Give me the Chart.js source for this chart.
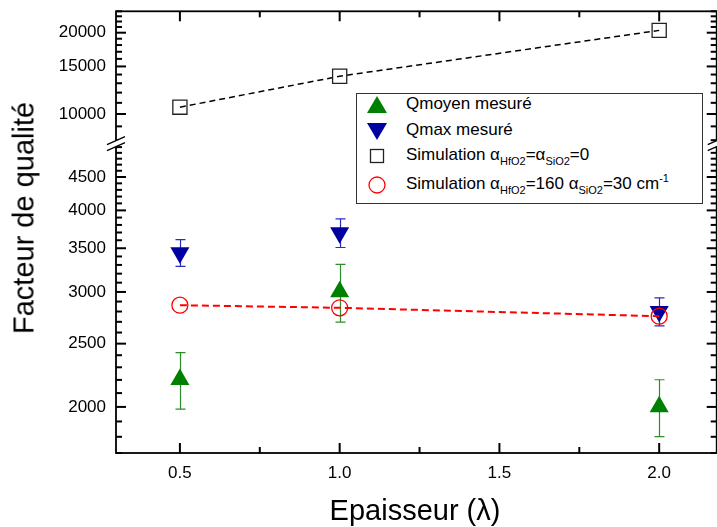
<!DOCTYPE html>
<html>
<head>
<meta charset="utf-8">
<script src="https://cdn.jsdelivr.net/npm/chart.js@4.4.9/dist/chart.umd.min.js"></script>
<style>
  html, body { margin: 0; padding: 0; background: #fff; overflow: hidden; }
  #wrap { position: relative; width: 717px; height: 527px; overflow: hidden; font-family: "Liberation Sans", Arial, sans-serif; color: #000; }
  #c { position: absolute; left: 0; top: 0; }
  .ytitle { position: absolute; left: 24px; top: 218px; transform: translate(-50%, -50%) rotate(-90deg);
            font-size: 29px; line-height: 29px; white-space: nowrap; }
  .xtitle { position: absolute; left: 415px; top: 510px; transform: translate(-50%, -50%);
            font-size: 29px; line-height: 29px; white-space: nowrap; }
  #legend { position: absolute; left: 356px; top: 93px; width: 347px; height: 111px;
            box-sizing: border-box; border: 1px solid #333; background: #fff; }
  .row { position: absolute; left: 49px; height: 20px; line-height: 20px; font-size: 17px; white-space: nowrap; }
  .sym { position: absolute; left: 9px; width: 22px; height: 22px; }
  .row sub { font-size: 11px; vertical-align: -5px; line-height: 0; }
  .row sup { font-size: 11px; vertical-align: 7px; line-height: 0; }
</style>
</head>
<body>
<div id="wrap">
  <canvas id="c" width="728" height="527"></canvas>
  <div class="ytitle">Facteur de qualité</div>
  <div class="xtitle">Epaisseur (λ)</div>
  <div id="legend">
    <svg class="sym" style="top:0px" viewBox="0 0 22 22"><polygon points="11,2 21,19 1,19" fill="#008000"/></svg>
    <div class="row" style="top:0px">Qmoyen mesuré</div>
    <svg class="sym" style="top:26px" viewBox="0 0 22 22"><polygon points="1,3 21,3 11,20" fill="#0000a0"/></svg>
    <div class="row" style="top:26px">Qmax mesuré</div>
    <svg class="sym" style="top:51px" viewBox="0 0 22 22"><rect x="4.5" y="4.5" width="13" height="13" fill="none" stroke="#222" stroke-width="1.3"/></svg>
    <div class="row" style="top:51px">Simulation α<sub>HfO2</sub>=α<sub>SiO2</sub>=0</div>
    <svg class="sym" style="top:80px" viewBox="0 0 22 22"><circle cx="11" cy="11" r="8" fill="none" stroke="#ff0000" stroke-width="1.3"/></svg>
    <div class="row" style="top:80px">Simulation α<sub>HfO2</sub>=160 α<sub>SiO2</sub>=30 cm<sup>-1</sup></div>
  </div>
</div>
<script>
/* data */
const thickness  = [0.5, 1.0, 2.0];
const qMoyen     = [2203, 3002, 2001];
const qMoyenErr  = [219, 305, 200];
const qMax       = [3446, 3696, 2800];
const qMaxErr    = [163, 187, 138];
const simNoLoss  = [10600, 13800, 20400];
const simLoss    = [2863, 2837, 2754];

const xTicks     = [0.5, 1.0, 1.5, 2.0];
const xMinor     = [0.75, 1.25, 1.75];
const yTopTicks  = [10000, 15000, 20000];
const yBotTicks  = [2000, 2500, 3000, 3500, 4000, 4500];

const range = (a, b, s) => { const r = []; for (let v = a; v <= b; v += s) r.push(v); return r; };
const yTopMinor = range(8000, 24000, 1000).filter(v => !yTopTicks.includes(v));
const yBotMinor = range(1700, 5000, 100).filter(v => !yBotTicks.includes(v));

const FONT = '"Liberation Sans", Arial, sans-serif';
const pts = vals => thickness.map((x, i) => ({ x, y: vals[i] }));

/* inward ticks on all four sides, then error bars, both under the markers */
const underlay = {
  id: 'underlay',
  beforeDatasetsDraw(chart) {
    const { ctx, chartArea: a, scales } = chart;
    const seg = (x1, y1, x2, y2) => { ctx.beginPath(); ctx.moveTo(x1, y1); ctx.lineTo(x2, y2); ctx.stroke(); };
    ctx.save();
    ctx.strokeStyle = '#000';
    ctx.lineWidth = 2;
    xTicks.forEach(v => { const p = scales.x.getPixelForValue(v); seg(p, a.bottom, p, a.bottom - 10); seg(p, a.top, p, a.top + 10); });
    xMinor.forEach(v => { const p = scales.x.getPixelForValue(v); seg(p, a.bottom, p, a.bottom - 6); seg(p, a.top, p, a.top + 6); });
    [[scales.yTop, yTopTicks, yTopMinor], [scales.yBot, yBotTicks, yBotMinor]].forEach(([s, maj, mnr]) => {
      maj.forEach(v => { const p = s.getPixelForValue(v); seg(a.left, p, a.left + 10, p); seg(a.right, p, a.right - 10, p); });
      mnr.forEach(v => {
        const p = s.getPixelForValue(v);
        if (p < s.top || p > s.bottom) return;
        seg(a.left, p, a.left + 6, p); seg(a.right, p, a.right - 6, p);
      });
    });

    const sets = [
      { v: qMoyen, e: qMoyenErr, c: '#2a8f2a' },
      { v: qMax,   e: qMaxErr,   c: '#2b2bc0' }
    ];
    ctx.lineWidth = 1.2;
    sets.forEach(s => {
      ctx.strokeStyle = s.c;
      thickness.forEach((t, i) => {
        const px = Math.round(scales.x.getPixelForValue(t)) + 0.5;
        const hi = scales.yBot.getPixelForValue(s.v[i] + s.e[i]);
        const lo = scales.yBot.getPixelForValue(s.v[i] - s.e[i]);
        ctx.beginPath();
        ctx.moveTo(px, hi); ctx.lineTo(px, lo);
        ctx.moveTo(px - 5, hi); ctx.lineTo(px + 5, hi);
        ctx.moveTo(px - 5, lo); ctx.lineTo(px + 5, lo);
        ctx.stroke();
      });
    });
    ctx.restore();
  }
};

/* frame and axis break on top */
const frame = {
  id: 'frame',
  afterDraw(chart) {
    const { ctx, chartArea: a, scales } = chart;
    ctx.save();
    ctx.setLineDash([]);
    ctx.strokeStyle = '#000';
    ctx.lineWidth = 1.8;
    ctx.strokeRect(a.left, a.top, a.right - a.left, a.bottom - a.top);
    const b = scales.yTop.bottom;
    [a.left, a.right].forEach(x => {
      ctx.fillStyle = '#fff';
      ctx.beginPath();
      ctx.moveTo(x - 9, b + 1); ctx.lineTo(x + 9, b - 7);
      ctx.lineTo(x + 9, b - 1); ctx.lineTo(x - 9, b + 7);
      ctx.closePath(); ctx.fill();
      ctx.lineWidth = 1.3;
      ctx.beginPath();
      ctx.moveTo(x - 9, b + 1); ctx.lineTo(x + 9, b - 7);
      ctx.moveTo(x - 9, b + 7); ctx.lineTo(x + 9, b - 1);
      ctx.stroke();
    });
    ctx.restore();
  }
};

const yAxis = (ticks, min, max, weight) => ({
  type: 'logarithmic', position: 'left', stack: 'y', stackWeight: weight,
  min, max, offset: false,
  grid: { display: false, drawTicks: false }, border: { display: false },
  ticks: { autoSkip: false, padding: 10, color: '#000', font: { size: 17, family: FONT },
           callback: v => String(v) },
  afterBuildTicks: s => { s.ticks = ticks.map(v => ({ value: v })); },
  afterFit: s => { s.width = 116; s.paddingTop = 0; s.paddingBottom = 0; }
});

new Chart(document.getElementById('c'), {
  type: 'scatter',
  data: {
    datasets: [
      { label: 'Simulation 160/30', data: pts(simLoss), yAxisID: 'yBot', order: 0,
        showLine: true, borderColor: '#ff0000', borderWidth: 2, borderDash: [7, 4],
        pointStyle: 'circle', pointRadius: 8, pointBorderWidth: 1.3,
        pointBorderColor: '#ff0000', pointBackgroundColor: 'rgba(0,0,0,0)' },
      { label: 'Qmoyen mesuré', data: pts(qMoyen), yAxisID: 'yBot', order: 1,
        pointStyle: 'triangle', pointRadius: 11, pointBorderWidth: 0,
        pointBackgroundColor: '#008000', pointBorderColor: '#008000' },
      { label: 'Qmax mesuré', data: pts(qMax), yAxisID: 'yBot', order: 2,
        pointStyle: 'triangle', pointRotation: 180, pointRadius: 11, pointBorderWidth: 0,
        pointBackgroundColor: '#0000a0', pointBorderColor: '#0000a0' },
      { label: 'Simulation 0', data: pts(simNoLoss), yAxisID: 'yTop', order: 3,
        showLine: true, borderColor: '#000', borderWidth: 1.5, borderDash: [6, 4],
        pointStyle: 'rect', pointRadius: 10, pointBorderWidth: 1.3,
        pointBorderColor: '#222', pointBackgroundColor: 'rgba(0,0,0,0)' }
    ]
  },
  options: {
    responsive: false, animation: false,
    layout: { padding: { top: 10, right: 2, left: 0, bottom: 0 } },
    plugins: { legend: { display: false }, tooltip: { enabled: false } },
    scales: {
      x: {
        type: 'linear', position: 'bottom', min: 0.3, max: 2.18,
        grid: { display: false, drawTicks: false }, border: { display: false },
        ticks: { padding: 10, color: '#000', font: { size: 17, family: FONT },
                 callback: v => v.toFixed(1) },
        afterBuildTicks: s => { s.ticks = xTicks.map(v => ({ value: v })); },
        afterFit: s => { s.height = 74; s.paddingLeft = 0; s.paddingRight = 0; }
      },
      yBot: yAxis(yBotTicks, 1700, 5063, 310),
      yTop: yAxis(yTopTicks, 7774, 24000, 132.5)
    }
  },
  plugins: [underlay, frame]
});
</script>
</body>
</html>
